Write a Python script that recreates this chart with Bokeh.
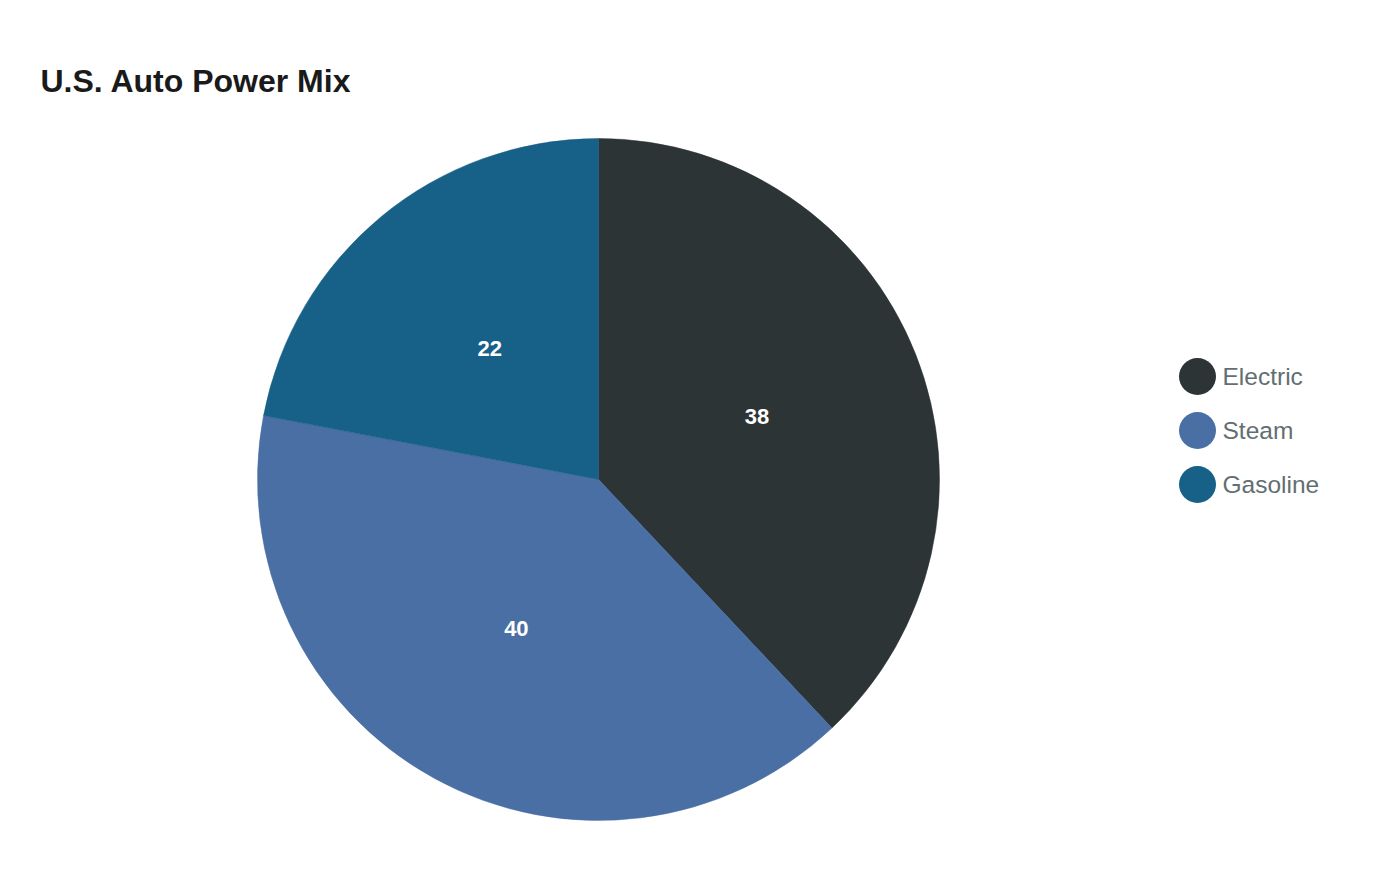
import numpy as np
from bokeh.plotting import figure
from bokeh.models import Range1d, ColumnDataSource
from bokeh.core.properties import value
from bokeh.embed import file_html
from bokeh.resources import INLINE

# ---- data ----
categories = ["Electric", "Steam", "Gasoline"]
shares = [38, 40, 22]
colors = ["#2d3436", "#4a6fa5", "#176087"]
title_text = "U.S. Auto Power Mix"

W, H = 1384, 864
p = figure(width=W, height=H, output_backend="svg", toolbar_location=None,
           x_range=Range1d(0, W), y_range=Range1d(0, H), min_border=0)
p.axis.visible = False
p.grid.visible = False
p.outline_line_color = None
p.background_fill_color = "white"
p.border_fill_color = "white"

cx, cy, r = 598, H - 479, 341
vals = np.array(shares, dtype=float)
frac = vals / vals.sum()
cum = np.concatenate([[0], np.cumsum(frac)])
start = np.pi / 2 - 2 * np.pi * cum[:-1]
end = np.pi / 2 - 2 * np.pi * cum[1:]
mid = (start + end) / 2
lr = r * 0.5

src = ColumnDataSource(dict(start=start, end=end, color=colors,
                            lx=cx + lr * np.cos(mid), ly=cy + lr * np.sin(mid),
                            lab=[str(v) for v in shares]))
p.wedge(x=cx, y=cy, radius=r, start_angle="start", end_angle="end",
        direction="clock", fill_color="color", line_color="color", line_width=0.5,
        source=src)
p.text(x="lx", y="ly", text="lab", source=src, text_color="white",
       text_font=value("Liberation Sans"), text_font_style="bold",
       text_font_size="22px", text_align="center", text_baseline="middle")

# legend
n = len(categories)
leg = ColumnDataSource(dict(x=[1197] * n, y=[H - 376 - 54 * i for i in range(n)],
                            tx=[1222] * n, name=categories, color=colors))
p.scatter(x="x", y="y", size=37, marker="circle", fill_color="color",
          line_color=None, source=leg)
p.text(x="tx", y="y", text="name", source=leg, text_color="#636e72",
       text_font=value("Liberation Sans"), text_font_size="24.5px",
       text_align="left", text_baseline="middle")

# title
p.text(x=[40], y=[H - 80], text=[title_text], text_color="#1a1a1a",
       text_font=value("Liberation Sans"), text_font_style="bold",
       text_font_size="32px", text_align="left", text_baseline="middle")

open("out.html", "w").write(file_html(p, INLINE))
